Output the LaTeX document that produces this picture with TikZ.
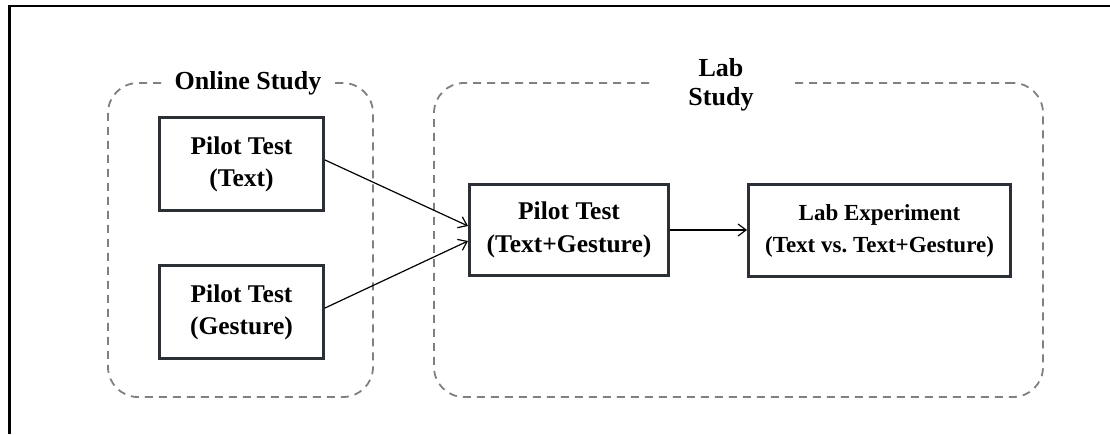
\documentclass[tikz,border=0pt]{standalone}
\usepackage{fontspec}
\setmainfont{Liberation Serif}
\usetikzlibrary{arrows.meta}
\definecolor{boxc}{HTML}{2A3035}
\definecolor{contc}{HTML}{808080}
\begin{document}
\frenchspacing
\begin{tikzpicture}[x=1pt,y=-1pt,
  box/.style={draw=boxc, line width=3pt, fill=white, align=center, inner sep=0pt,
    font=\fontsize{25.5}{32}\selectfont\bfseries},
  midbox/.style={box, font=\fontsize{25.5}{33}\selectfont\bfseries},
  smallbox/.style={box, font=\fontsize{23}{32}\selectfont\bfseries},
  cont/.style={draw=contc, dash pattern=on 8pt off 6pt, line width=1.8pt, rounded corners=30pt, inner sep=0pt},
  ttl/.style={fill=white, align=center, inner ysep=1pt, font=\fontsize{26}{29}\selectfont\bfseries},
  arr/.style={-{Straight Barb[length=8pt,width=12pt]}, line width=1.2pt, draw=black}]
\useasboundingbox (0,0) rectangle (1110,434);
% frame
\coordinate (fa) at (9.3,434);
\coordinate (fb) at (9.3,5.8);
\coordinate (fc) at (1110,5.8);
\draw[line width=2.5pt] (fa) -- (fb) -- (fc);
% containers
\node[cont, minimum width=265pt, minimum height=314pt] (online) at (240.5,240) {};
\node[cont, minimum width=609pt, minimum height=314pt] (lab) at (738.5,240) {};
\node[ttl, minimum width=170pt] (onlinet) at (248,83) {Online Study};
\node[ttl, minimum width=140pt] (labt) at (721,85) {Lab\\Study};
% boxes
\node[box, minimum width=164pt, minimum height=93pt] (p1) at (241.5,164) {Pilot Test\\(Text)};
\node[box, minimum width=164pt, minimum height=93pt] (p2) at (241.5,312) {Pilot Test\\(Gesture)};
\node[midbox, minimum width=199pt, minimum height=91pt] (p3) at (569,230) {Pilot Test\\(Text+Gesture)};
\node[smallbox, minimum width=262pt, minimum height=92pt] (le) at (879.5,230.5) {Lab Experiment\\(Text vs. Text+Gesture)};
% arrows
\draw[arr] ([yshift=4pt]p1.east) -- ([yshift=4pt]p3.west);
\draw[arr] ([yshift=4pt]p2.east) -- ([yshift=-11pt]p3.west);
\draw[arr] (p3.east) -- (p3.east -| le.west);
\end{tikzpicture}
\end{document}
